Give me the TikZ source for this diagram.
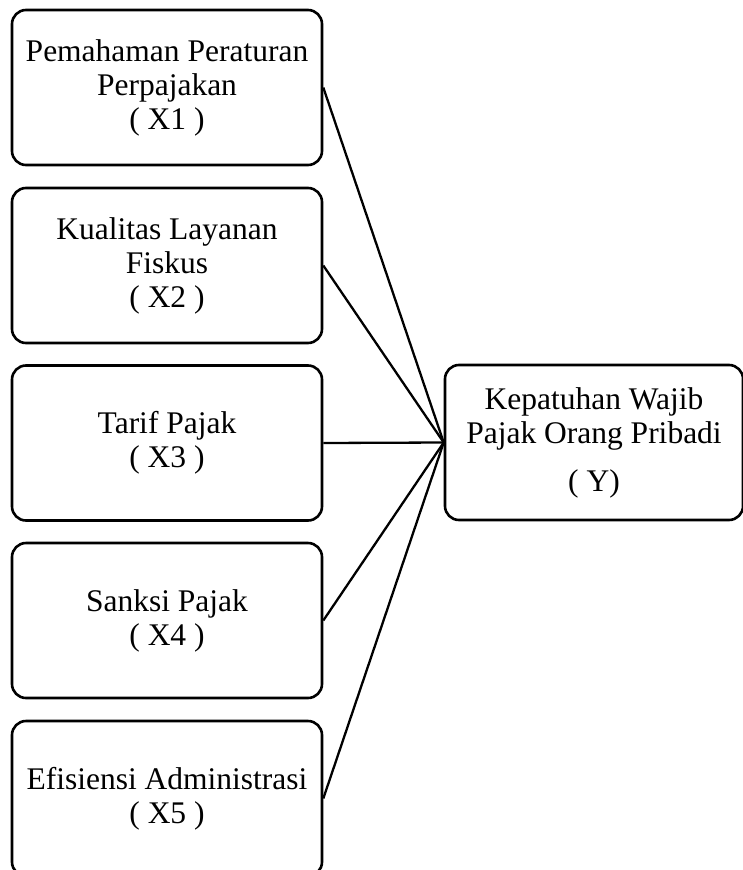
\documentclass[tikz,border=0pt]{standalone}
\usepackage{fontspec}
\setmainfont{Liberation Serif}
\begin{document}
\begin{tikzpicture}[x=1pt,y=-1pt,
  box/.style={draw=black,line width=2.6pt,rounded corners=14pt,minimum width=310pt,minimum height=155pt,inner sep=0pt,align=center,font=\fontsize{31.5}{34}\selectfont},
  ybox/.style={box,minimum width=298pt},
  link/.style={draw=black,line width=2.3pt}]
\useasboundingbox (0,0) rectangle (743,870);
\begin{scope}
\clip (0,0) rectangle (743,870);
\node[box] (x1) at (167,87.5) {Pemahaman Peraturan\\Perpajakan\\( X1 )};
\node[box] (x2) at (167,265.5) {Kualitas Layanan\\Fiskus\\( X2 )};
\node[box] (x3) at (167,443) {Tarif Pajak\\( X3 )};
\node[box] (x4) at (167,620.5) {Sanksi Pajak\\( X4 )};
\node[box] (x5) at (167,798.5) {Efisiensi Administrasi\\( X5 )};
\node[ybox] (y) at (594,442.5) {Kepatuhan Wajib\\Pajak Orang Pribadi\\[14pt]( Y)};
\foreach \n in {x1,x2,x3,x4,x5} \draw[link] (\n.east) -- (y.west);
\end{scope}
\end{tikzpicture}
\end{document}
